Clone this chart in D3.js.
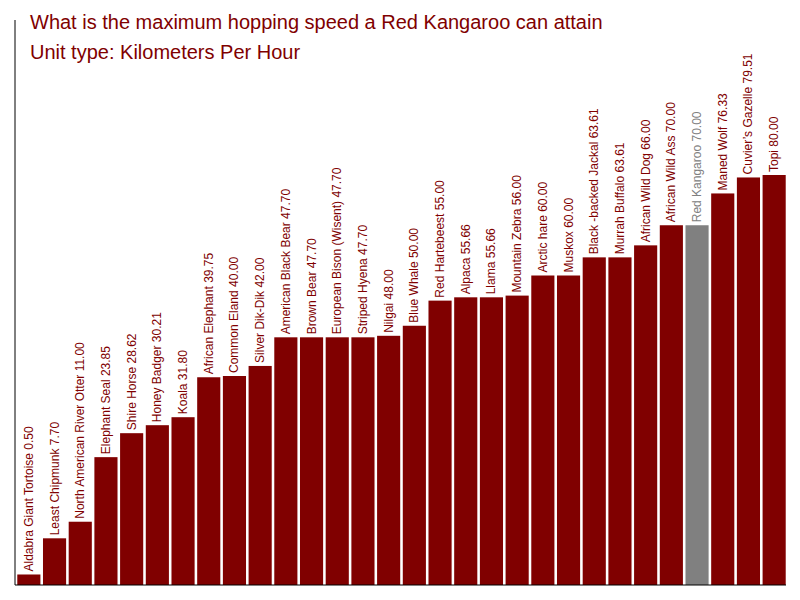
<!DOCTYPE html>
<html><head><meta charset="utf-8">
<script src="https://cdn.jsdelivr.net/npm/d3@7"></script>
<style>body{margin:0;background:#fff}</style></head>
<body><svg id="c" width="800" height="600"></svg>
<script>
const names = ["Aldabra Giant Tortoise","Least Chipmunk","North American River Otter","Elephant Seal","Shire Horse","Honey Badger","Koala","African Elephant","Common Eland","Silver Dik-Dik","American Black Bear","Brown Bear","European Bison (Wisent)","Striped Hyena","Nilgai","Blue Whale","Red Hartebeest","Alpaca","Llama","Mountain Zebra","Arctic hare","Muskox","Black -backed Jackal","Murrah Buffalo","African Wild Dog","African Wild Ass","Red Kangaroo","Maned Wolf","Cuvier\u2019s Gazelle","Topi"];
const values = [0.50,7.70,11.00,23.85,28.62,30.21,31.80,39.75,40.00,42.00,47.70,47.70,47.70,47.70,48.00,50.00,55.00,55.66,55.66,56.00,60.00,60.00,63.61,63.61,66.00,70.00,70.00,76.33,79.51,80.00];
const highlight = "Red Kangaroo";
const svg = d3.select("#c");
const x = d3.scaleBand().domain(names).range([16,787]).paddingInner(0.1).paddingOuter(0.05);
const y = d3.scaleLinear().domain([0,80]).range([577,175]);
const base = 585;
svg.selectAll("rect").data(names).join("rect")
  .attr("x",d=>x(d)).attr("width",x.bandwidth())
  .attr("y",(d,i)=>y(values[i])).attr("height",(d,i)=>base-y(values[i]))
  .attr("fill",d=>d===highlight?"#808080":"#800000");
svg.selectAll("text.l").data(names).join("text").attr("class","l")
  .attr("transform",(d,i)=>`translate(${x(d)+x.bandwidth()/2+4},${y(values[i])-3}) rotate(-90)`)
  .attr("font-family","Arial, Liberation Sans, sans-serif").attr("font-size",12)
  .attr("fill",d=>d===highlight?"#808080":"#800000")
  .text((d,i)=>d+" "+values[i].toFixed(2));
svg.append("line").attr("x1",15).attr("x2",15).attr("y1",20).attr("y2",base).attr("stroke","#000");
svg.append("line").attr("x1",15).attr("x2",786).attr("y1",base).attr("y2",base).attr("stroke","#000");
svg.append("text").attr("x",30).attr("y",29).attr("font-family","Arial, Liberation Sans, sans-serif").attr("font-size",20).attr("fill","#800000").text("What is the maximum hopping speed a Red Kangaroo can attain");
svg.append("text").attr("x",30).attr("y",59).attr("font-family","Arial, Liberation Sans, sans-serif").attr("font-size",20).attr("fill","#800000").text("Unit type: Kilometers Per Hour");
</script></body></html>
